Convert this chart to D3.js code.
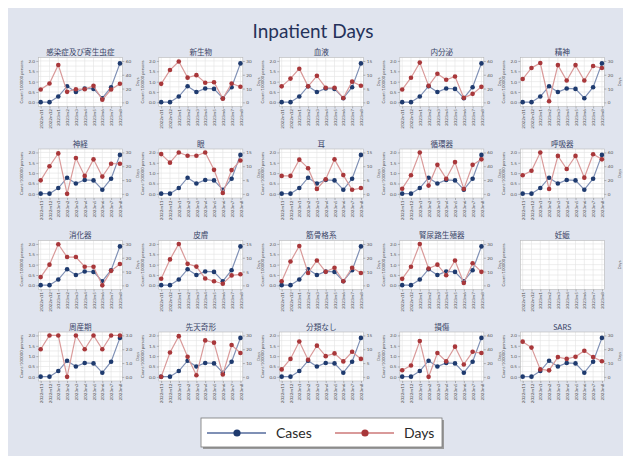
<!DOCTYPE html>
<html><head><meta charset="utf-8">
<script src="https://cdn.jsdelivr.net/npm/d3@7"></script>
<style>body{margin:0;background:#fff}svg{display:block}</style>
</head><body>
<script>
const categories = ["2022m11","2022m12","2023m1","2023m2","2023m3","2023m4","2023m5","2023m6","2023m7","2023m8"];
const panelTitles = ["感染症及び寄生虫症","新生物","血液","内分泌","精神","神経","眼","耳","循環器","呼吸器",
  "消化器","皮膚","筋骨格系","腎尿路生殖器","妊娠","周産期","先天奇形","分類なし","損傷","SARS"];
const casesValues = [0.01,0.01,0.28,0.78,0.5,0.67,0.65,0.2,0.73,1.88];
const caseTicks = [0,0.5,1,1.5,2];
const daysTicks = [
  [0,20,40,60],[0,10,20,30],[0,5,10,15],[0,20,40,60],[0,10,20,30],
  [0,10,20,30],[0,5,10,15],[0,5,10,15],[0,20,40,60],[0,20,40,60],
  [0,10,20,30],[0,5,10,15],[0,10,20,30],[0,10,20,30],null,
  [0,1,2,3],[0,10,20,30],[0,5,10,15],[0,20,40,60],[0,10,20,30]];
const daysSeries = [
  [18.6,27.3,54.2,15.2,19.1,19.1,23.9,3.9,18.6,26.9],
  [13.4,23.4,29.6,17.9,19.7,14.2,14.6,2.7,13.7,11.3],
  [5.8,8.6,12.2,5.8,9.6,5.3,5.3,1.6,7.5,6.0],
  [18.6,35.7,57.6,23.9,41.4,32.7,37.5,6.5,12.3,22.5],
  [16.9,24.9,28.5,0.8,27,15.8,27,15.8,26.3,24.9],
  [9.8,20,29.3,0,26,13,25,12.5,21.8,21.8],
  [14.4,11.3,15,13.8,13.8,15,8.7,0.3,8.6,12.1],
  [6.5,6.5,12.4,9.3,1.8,5.3,12.5,6.8,1.5,2.1],
  [7.5,27,60,12,42,22,46,7,42,50],
  [27,33.5,60,7,55,36,55,23.5,57.5,50],
  [6,15,29.8,20.5,20.5,13.5,13.5,0,10.5,15.5],
  [2.4,9.4,15,7.8,6.8,2.5,1.5,0.6,3.6,4.0],
  [3,17.3,28.5,9,18,9.8,12.8,3,12.8,9],
  [4.7,13.5,30,12.2,15,7.3,18,1.7,16,9.8],
  null,
  [2,3,3,0,3,2,3,2,3,3],
  [0,17.7,29.5,14.6,1.2,26.4,24.8,1.7,23.1,17.3],
  [2.7,6.5,12.8,6.2,11.3,7.5,8.5,5.6,9.1,6.5],
  [9.5,16.5,51.9,0,34.5,22.5,43.8,18,36.3,34.5],
  [25.5,21.2,5.4,4.7,14.3,13,14.6,18.9,14.3,11.3]];
const seriesNames = ["Cases","Days"];

const W=623,H=456;
const navy="#1e3a6e", navyLine="#7f90b5", maroon="#a8373a", maroonLine="#d99a9a";
const svg=d3.select("body").append("svg").attr("width",W).attr("height",H);
svg.append("rect").attr("x",8).attr("y",8).attr("width",W-8).attr("height",H-8).attr("fill","#e0e4ee");
svg.append("text").attr("x",313).attr("y",38).attr("text-anchor","middle")
  .attr("font-family","Lato, 'Open Sans', sans-serif").attr("font-size",19).attr("fill","#25325a").text("Inpatient Days");

const pw=84, ph=49;
const font="Lato, 'Noto Sans CJK JP', sans-serif";
panelTitles.forEach((title,i)=>{
  const c=i%5, r=Math.floor(i/5);
  const x0=38.3+120.5*c, y0=57.5+91.5*r;
  const g=svg.append("g").attr("transform",`translate(${x0},${y0})`);
  const xs=d3.scalePoint().domain(categories).range([0,pw]).padding(0.27);
  const yl=d3.scaleLinear().domain([-0.2,2.165]).range([ph,0]);
  g.append("rect").attr("width",pw).attr("height",ph).attr("fill","#fff");
  const minor=d3.range(-0.25,2.2,0.25).filter(v=>v>=-0.2&&v<=2.165);
  g.selectAll(".hg").data(minor).join("line").attr("x1",0).attr("x2",pw)
    .attr("y1",d=>yl(d)).attr("y2",d=>yl(d)).attr("stroke","#e3e3e3").attr("stroke-width",0.6);
  g.selectAll(".vg").data(categories).join("line").attr("y1",0).attr("y2",ph)
    .attr("x1",d=>xs(d)).attr("x2",d=>xs(d)).attr("stroke","#e3e3e3").attr("stroke-width",0.6);
  g.append("rect").attr("width",pw).attr("height",ph).attr("fill","none").attr("stroke","#b8b8b8").attr("stroke-width",0.6);
  g.append("text").attr("x",pw/2).attr("y",-2.5).attr("text-anchor","middle").attr("font-family",font)
    .attr("font-size",7.6).attr("fill","#3a4468").text(title);
  const xa=g.append("g").attr("transform",`translate(0,${ph})`)
    .call(d3.axisBottom(xs).tickSize(2).tickPadding(1.5));
  xa.select(".domain").remove();
  xa.selectAll("line").attr("stroke","#777").attr("stroke-width",0.5);
  xa.selectAll("text").attr("font-size",4.6).attr("font-family",font).attr("fill","#555")
    .attr("transform","rotate(-90)").attr("text-anchor","end").attr("dx","-2.5").attr("x",0).attr("y",0)
    .attr("dy","0.35em");
  g.append("text").attr("transform",`translate(-15,${ph/2}) rotate(-90)`).attr("text-anchor","middle")
    .attr("font-family",font).attr("font-size",4.2).attr("fill","#555").text("Count/100000 persons");
  g.append("text").attr("transform",`translate(${pw+17},${ph/2}) rotate(-90)`).attr("text-anchor","middle")
    .attr("font-family",font).attr("font-size",4.2).attr("fill","#555").text(seriesNames[1]);
  const days=daysSeries[i];
  if(!days) return;
  const la=g.append("g").call(d3.axisLeft(yl).tickValues(caseTicks).tickSize(2).tickPadding(1.5).tickFormat(d3.format(".1f")));
  la.select(".domain").remove();
  la.selectAll("line").attr("stroke","#777").attr("stroke-width",0.5);
  la.selectAll("text").attr("font-size",4.6).attr("font-family",font).attr("fill","#555");
  const t=daysTicks[i], st=t[1]-t[0];
  const yr=d3.scaleLinear().domain([t[0]-0.3*st,t[3]+0.25*st]).range([ph,0]);
  const ra=g.append("g").attr("transform",`translate(${pw},0)`)
    .call(d3.axisRight(yr).tickValues(t).tickSize(2).tickPadding(1.5));
  ra.select(".domain").remove();
  ra.selectAll("line").attr("stroke","#777").attr("stroke-width",0.5);
  ra.selectAll("text").attr("font-size",4.6).attr("font-family",font).attr("fill","#555");
  const draw=(vals,ys,lc,mc)=>{
    g.append("path").datum(vals).attr("fill","none").attr("stroke",lc).attr("stroke-width",1.2)
      .attr("d",d3.line().x((d,k)=>xs(categories[k])).y(d=>ys(d)));
    g.append("g").selectAll("circle").data(vals).join("circle")
      .attr("cx",(d,k)=>xs(categories[k])).attr("cy",d=>ys(d)).attr("r",2.3).attr("fill",mc);
  };
  draw(casesValues,yl,navyLine,navy);
  draw(days,yr,maroonLine,maroon);
});

const lg=svg.append("g");
lg.append("rect").attr("x",203).attr("y",420).attr("width",241).attr("height",29).attr("fill","#9a9a9a");
lg.append("rect").attr("x",201).attr("y",418).attr("width",241).attr("height",29).attr("fill","#fff").attr("stroke","#777").attr("stroke-width",0.8);
const items=[{name:seriesNames[0],lc:navyLine,mc:navy,x:207},{name:seriesNames[1],lc:maroonLine,mc:maroon,x:335}];
items.forEach(it=>{
  lg.append("line").attr("x1",it.x).attr("x2",it.x+59).attr("y1",433).attr("y2",433).attr("stroke",it.lc).attr("stroke-width",2);
  lg.append("circle").attr("cx",it.x+30).attr("cy",433).attr("r",3.6).attr("fill",it.mc);
  lg.append("text").attr("x",it.x+69).attr("y",438).attr("font-family","Lato, 'Open Sans', sans-serif")
    .attr("font-size",14).attr("fill","#2a2a2a").text(it.name);
});
</script>
</body></html>
